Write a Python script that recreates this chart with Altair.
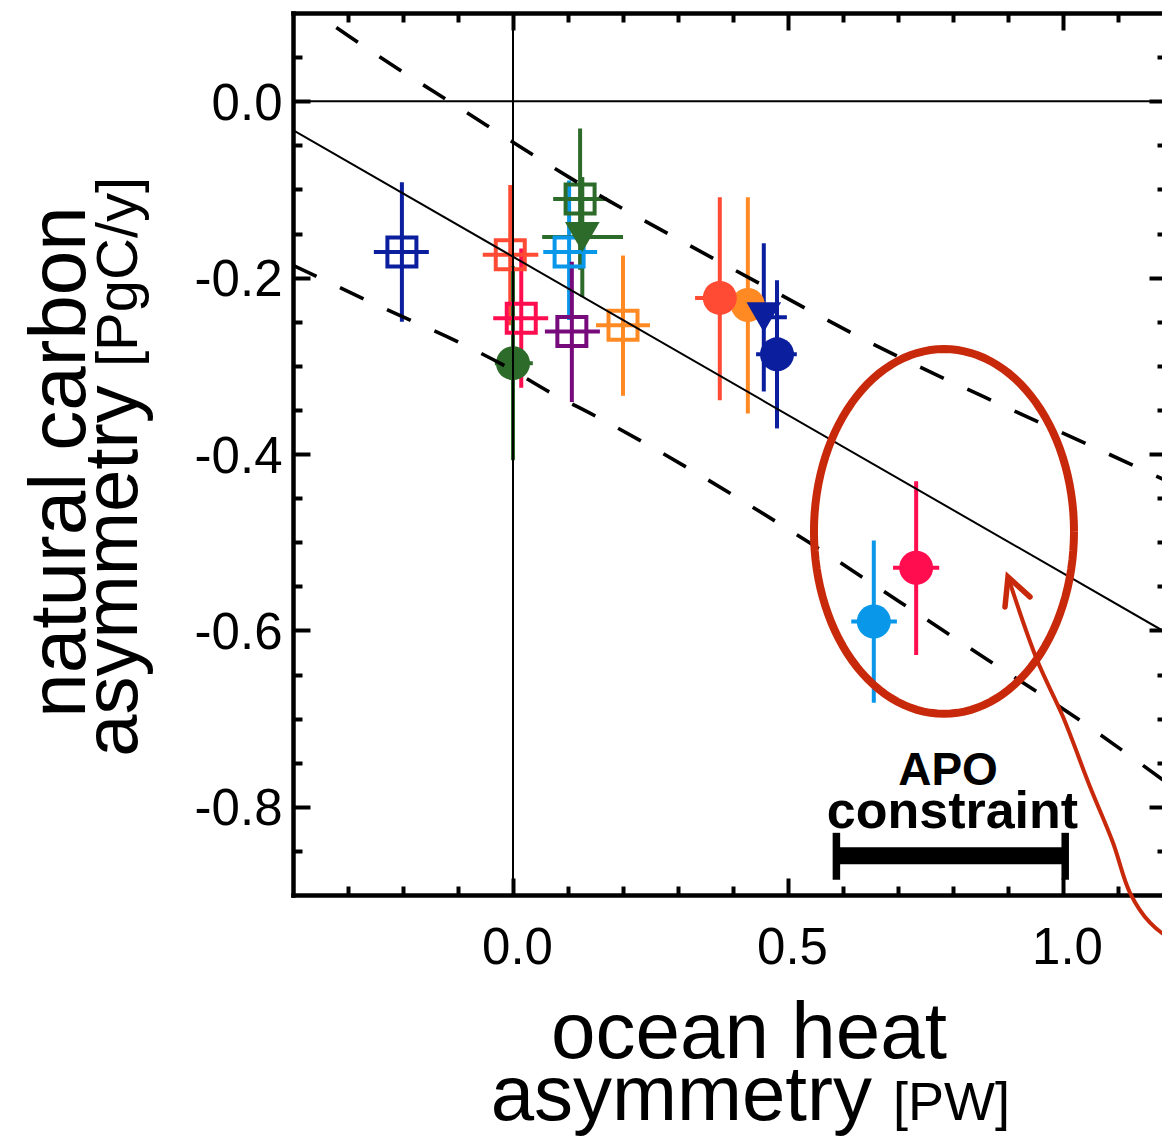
import altair as alt
import numpy as np
import pandas as pd

FONT = "Liberation Sans"
RED = "#c8290b"

# ---------------- model estimates (drawing order) ----------------
heat = [-0.202, -0.005, 0.015, 0.102, 0.107, 0.200, 0.122, 0.126, 0.000,
        0.427, 0.376, 0.456, 0.480, 0.656, 0.733]
carbon = [-0.171, -0.174, -0.246, -0.171, -0.261, -0.254, -0.111, -0.154, -0.297,
          -0.231, -0.223, -0.245, -0.287, -0.590, -0.529]
heat_lo = [-0.253, -0.055, -0.036, 0.055, 0.058, 0.151, 0.073, 0.053, -0.033,
           0.390, 0.331, 0.416, 0.442, 0.615, 0.691]
heat_hi = [-0.153, 0.046, 0.064, 0.153, 0.158, 0.249, 0.171, 0.200, 0.036,
           0.465, 0.422, 0.498, 0.516, 0.698, 0.775]
carbon_lo = [-0.250, -0.254, -0.325, -0.248, -0.341, -0.334, -0.191, -0.222, -0.407,
             -0.354, -0.339, -0.329, -0.371, -0.682, -0.628]
carbon_hi = [-0.092, -0.095, -0.167, -0.090, -0.182, -0.175, -0.031, -0.086, -0.187,
             -0.109, -0.109, -0.161, -0.203, -0.498, -0.431]
marker = ["square", "square", "square", "square", "square", "square", "square",
          "triangle-down", "circle", "circle", "circle", "triangle-down", "circle",
          "circle", "circle"]
colour = ["#0b1e9e", "#ff4b34", "#ff0d4f", "#0897e9", "#770b7c", "#ff8a24", "#2d6b2b",
          "#2d6b2b", "#2d6b2b", "#ff8a24", "#ff4b34", "#0b1e9e", "#0b1e9e", "#0897e9",
          "#ff0d4f"]

# ---------------- regression line and confidence band ----------------
fit_x = [-0.40, 1.20]
fit_y = [-0.0328, -0.607]
band_hi_x = [-0.40, -0.36, -0.242, -0.082, 0.0, 0.144, 0.296, 0.476, 0.644, 0.904, 1.062, 1.20]
band_hi_y = [0.116, 0.0997, 0.050, -0.0136, -0.0465, -0.102, -0.155, -0.216, -0.272,
             -0.349, -0.394, -0.434]
band_lo_x = [-0.40, -0.227, -0.100, -0.018, 0.067, 0.153, 0.540, 0.704, 0.862, 1.026, 1.20]
band_lo_y = [-0.186, -0.237, -0.273, -0.299, -0.330, -0.358, -0.501, -0.568, -0.633,
             -0.700, -0.778]

# ---------------- annotations ----------------
apo_lo, apo_hi, apo_y = 0.588, 1.004, -0.8555
apo_cap_lo, apo_cap_hi = -0.8827, -0.8295
ell_cx, ell_cy, ell_rx, ell_ry = 0.7836, -0.4878, 0.2364, 0.2068
arrow_x = [0.900, 0.9527, 1.000, 1.0491, 1.0909, 1.1218, 1.1582, 1.1945, 1.2309]
arrow_y = [-0.5394, -0.6334, -0.698, -0.7773, -0.8408, -0.8975, -0.9314, -0.9484, -0.953]
head_x = [0.8945, 0.900, 0.940]
head_y = [-0.5734, -0.5394, -0.562]

# axis ticks
x_major = [0.0, 0.5, 1.0]
x_minor = [-0.3, -0.2, -0.1, 0.1, 0.2, 0.3, 0.4, 0.6, 0.7, 0.8, 0.9, 1.1]
y_major = [-0.8, -0.6, -0.4, -0.2, 0.0]
y_minor = [-0.85, -0.75, -0.7, -0.65, -0.55, -0.5, -0.45, -0.35, -0.3, -0.25,
           -0.15, -0.1, -0.05, 0.05]

PLOT_W = 869
XS = alt.Scale(domain=[-0.4, -0.4 + PLOT_W / 550.0], nice=False, zero=False)
YS = alt.Scale(domain=[-0.9, 0.1], nice=False, zero=False)


def X(f, axis=None):
    return alt.X(f, type="quantitative", scale=XS, axis=axis)


def Y(f, axis=None):
    return alt.Y(f, type="quantitative", scale=YS, axis=axis)


pts = pd.DataFrame(dict(x=heat, y=carbon, xlo=heat_lo, xhi=heat_hi,
                        ylo=carbon_lo, yhi=carbon_hi, shape=marker, color=colour))
size_map = {"square": 841, "circle": 1156, "triangle-down": 1200}
pts["size"] = [size_map[m] for m in marker]
pts["fill"] = ["transparent" if m == "square" else c for m, c in zip(marker, colour)]
pts["sw"] = [4 if m == "square" else 0 for m in marker]

dummy = pd.DataFrame({"x": [0.0], "y": [0.0]})
LABEL_EXPR = "(datum.value < 0 ? '-' : '') + format(abs(datum.value), '.1f')"

tick_common = dict(labels=False, domain=False, grid=False, title=None,
                   tickColor="black", tickWidth=4)
frame = dict(domain=True, domainColor="black", domainWidth=4.5, domainCap="square")


def axis_layer(xaxis, yaxis):
    return alt.Chart(dummy).mark_point(opacity=0, size=1).encode(
        x=X("x", xaxis), y=Y("y", yaxis))


label_layer = axis_layer(
    alt.Axis(orient="bottom", values=x_major, labelExpr=LABEL_EXPR, ticks=False, tickSize=0,
             grid=False, title=None, labelFontSize=51, labelFont=FONT,
             labelColor="black", labelPadding=68, labelBaseline="alphabetic",
             labelOffset=4, labelFlush=False, labelOverlap=False, labelAlign="center", **frame),
    alt.Axis(orient="left", values=y_major, labelExpr=LABEL_EXPR, ticks=False, tickSize=0,
             grid=False, title=None, labelFontSize=51, labelFont=FONT,
             labelColor="black", labelPadding=11, labelBaseline="alphabetic",
             labelOffset=18, labelFlush=False, labelOverlap=False, labelAlign="right", **frame),
)
top_frame = axis_layer(
    alt.Axis(orient="top", ticks=False, labels=False, grid=False, title=None, **frame), None)
major_bl = axis_layer(
    alt.Axis(orient="bottom", values=x_major, tickSize=17, offset=-17, **tick_common),
    alt.Axis(orient="left", values=y_major, tickSize=17, offset=-17, **tick_common))
minor_bl = axis_layer(
    alt.Axis(orient="bottom", values=x_minor, tickSize=9, offset=-9, **tick_common),
    alt.Axis(orient="left", values=y_minor, tickSize=9, offset=-9, **tick_common))
major_tr = axis_layer(
    alt.Axis(orient="top", values=x_major, tickSize=17, offset=-17, **tick_common),
    alt.Axis(orient="right", values=y_major, tickSize=13, offset=-13, **tick_common))
minor_tr = axis_layer(
    alt.Axis(orient="top", values=x_minor, tickSize=9, offset=-9, **tick_common),
    alt.Axis(orient="right", values=y_minor, tickSize=5, offset=-5, **tick_common))

vbars = alt.Chart(pts).mark_rule(strokeWidth=4).encode(
    x=X("x"), y=Y("ylo"), y2=alt.Y2("yhi"), color=alt.Color("color:N", scale=None))
hbars = alt.Chart(pts).mark_rule(strokeWidth=4).encode(
    x=X("xlo"), x2=alt.X2("xhi"), y=Y("y"), color=alt.Color("color:N", scale=None))
markers = alt.Chart(pts).mark_point(filled=True, opacity=1).encode(
    x=X("x"), y=Y("y"),
    shape=alt.Shape("shape:N", scale=None),
    size=alt.Size("size:Q", scale=None),
    fill=alt.Fill("fill:N", scale=None),
    stroke=alt.Stroke("color:N", scale=None),
    strokeWidth=alt.StrokeWidth("sw:Q", scale=None))

zero_v = alt.Chart(pd.DataFrame({"x": [0.0]})).mark_rule(color="black", strokeWidth=2).encode(x=X("x"))
zero_h = alt.Chart(pd.DataFrame({"y": [0.0]})).mark_rule(color="black", strokeWidth=2).encode(y=Y("y"))

fit = alt.Chart(pd.DataFrame({"x": fit_x, "y": fit_y})).mark_line(
    color="black", strokeWidth=2, clip=True).encode(x=X("x"), y=Y("y"))
band_hi = alt.Chart(pd.DataFrame({"x": band_hi_x, "y": band_hi_y})).mark_line(
    color="black", strokeWidth=3.6, strokeDash=[26, 26], clip=True,
    interpolate="monotone").encode(x=X("x"), y=Y("y"))
band_lo = alt.Chart(pd.DataFrame({"x": band_lo_x, "y": band_lo_y})).mark_line(
    color="black", strokeWidth=3.6, strokeDash=[26, 26], clip=True,
    interpolate="monotone").encode(x=X("x"), y=Y("y"))

t = np.linspace(0, 2 * np.pi, 121)
ell = pd.DataFrame({"x": ell_cx + ell_rx * np.cos(t), "y": ell_cy + ell_ry * np.sin(t),
                    "i": np.arange(len(t))})
ellipse = alt.Chart(ell).mark_line(color=RED, strokeWidth=8).encode(
    x=X("x"), y=Y("y"), order="i:Q")

arrow = alt.Chart(pd.DataFrame({"x": arrow_x, "y": arrow_y, "i": range(len(arrow_x))})).mark_line(
    color=RED, strokeWidth=4, interpolate="catmull-rom").encode(
    x=X("x"), y=Y("y"), order="i:Q")
head = alt.Chart(pd.DataFrame({"x": head_x, "y": head_y, "i": range(3)})).mark_line(
    color=RED, strokeWidth=5.5, strokeJoin="miter", strokeCap="round").encode(
    x=X("x"), y=Y("y"), order="i:Q")

apo_bar = alt.Chart(pd.DataFrame({"x": [apo_lo], "x2": [apo_hi], "y": [apo_y]})).mark_rule(
    color="black", strokeWidth=17).encode(x=X("x"), x2=alt.X2("x2"), y=Y("y"))
apo_caps = alt.Chart(pd.DataFrame({"x": [apo_lo, apo_hi], "y": [apo_cap_lo] * 2,
                                   "y2": [apo_cap_hi] * 2})).mark_rule(
    color="black", strokeWidth=7.5).encode(x=X("x"), y=Y("y"), y2=alt.Y2("y2"))


def label(txt, x, y, size, align="center", angle=0, weight="normal"):
    return alt.Chart(pd.DataFrame({"x": [x], "y": [y], "t": [txt]})).mark_text(
        font=FONT, fontSize=size, fontWeight=weight, align=align, baseline="alphabetic",
        angle=angle, color="black").encode(x=X("x"), y=Y("y"), text="t:N")


texts = [
    label("APO", 0.791, -0.775, 46, weight="bold"),
    label("constraint", 0.799, -0.8238, 52, weight="bold"),
    label("ocean heat", 0.429, -1.0844, 80),
    label("asymmetry", 0.6527, -1.1547, 78, align="right"),
    label("[PW]", 0.6909, -1.1547, 54, align="left"),
    label("natural carbon", -0.7782, -0.409, 80, angle=270),
    label("asymmetry", -0.6836, -0.7433, 76, align="left", angle=270),
    label("[PgC/y]", -0.6836, -0.3014, 58, align="left", angle=270),
]

chart = alt.layer(
    label_layer, top_frame, major_bl, minor_bl, major_tr, minor_tr,
    vbars, hbars, markers,
    zero_v, zero_h, fit, band_hi, band_lo,
    ellipse, arrow, head, apo_bar, apo_caps, *texts,
).resolve_axis(x="independent", y="independent").properties(
    width=PLOT_W, height=882,
    padding={"left": 285, "top": 5, "right": 0, "bottom": 246},
    autosize=alt.AutoSizeParams(type="none"),
).configure(font=FONT).configure_view(stroke="white", strokeWidth=0)

chart.save("out.html", embed_options={"renderer": "svg", "actions": False})
